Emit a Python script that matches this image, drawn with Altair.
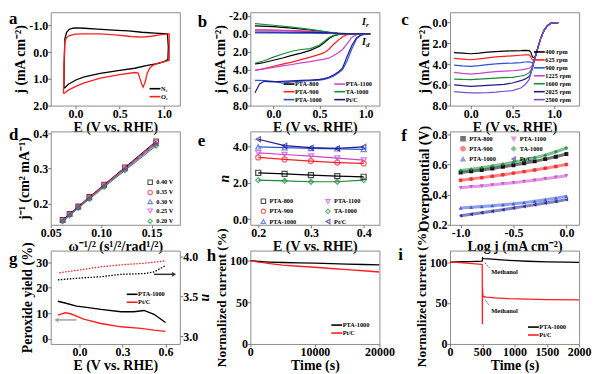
import altair as alt
import pandas as pd

FONT = "Liberation Serif"
W, H = 130, 94

BLACK = "#000000"; RED = "#ff1f1f"; BLUE = "#2f52d6"; MAGENTA = "#cc44cc"
GREEN = "#1a8a3a"; NAVY = "#1c1c8c"; PURPLE = "#7a4fd0"

# ---------------- (a) CV ----------------
a_n2_E = [-0.13, -0.128, -0.12, -0.10, -0.07, -0.03, 0.01, 0.1, 0.25, 0.475, 0.6, 0.75, 0.9, 1.04, 1.05, 1.045, 1.0, 0.94, 0.8, 0.67, 0.5, 0.28, 0.1, 0.01, -0.08, -0.12, -0.13]
a_n2_j = [1.35, 0.5, -0.5, -0.75, -0.86, -0.9, -0.91, -0.9, -0.87, -0.82, -0.8, -0.75, -0.72, -0.69, -0.2, 0.28, 0.35, 0.42, 0.5, 0.6, 0.68, 0.79, 0.92, 1.03, 1.2, 1.33, 1.35]
a_o2_E = [-0.135, -0.13, -0.12, -0.10, -0.07, 0.0, 0.1, 0.28, 0.45, 0.6, 0.67, 0.75, 0.86, 0.95, 1.05, 1.06, 1.06, 1.0, 0.94, 0.87, 0.84, 0.81, 0.79, 0.765, 0.75, 0.73, 0.71, 0.67, 0.5, 0.28, 0.1, 0.01, -0.08, -0.12, -0.135]
a_o2_j = [1.55, 0.5, -0.4, -0.55, -0.62, -0.68, -0.69, -0.69, -0.65, -0.6, -0.58, -0.57, -0.6, -0.65, -0.69, -0.69, 0.3, 0.36, 0.4, 0.5, 0.6, 0.8, 1.1, 1.31, 1.2, 1.0, 0.78, 0.76, 0.84, 0.97, 1.15, 1.27, 1.42, 1.52, 1.55]

# ---------------- (b) LSV disk / ring ----------------
b_names = ["PTA-800", "PTA-900", "PTA-1000", "PTA-1100", "TA-1000", "Pt/C"]
b_colors = [BLACK, RED, BLUE, MAGENTA, GREEN, NAVY]
b_E = [-0.2, -0.15, -0.1, 0.0, 0.1, 0.2, 0.3, 0.4, 0.5, 0.55, 0.6, 0.65, 0.7, 0.75, 0.8, 0.85, 0.9, 0.95, 1.0, 1.05]
b_disk = {
    "PTA-800": [3.36, 3.3, 3.2, 2.95, 2.7, 2.4, 2.15, 1.85, 1.4, 1.0, 0.55, 0.25, 0.1, 0.04, 0.02, 0.01, 0, 0, 0, 0],
    "PTA-900": [4.08, 3.98, 3.88, 3.62, 3.38, 3.15, 2.88, 2.6, 2.3, 2.1, 1.75, 1.2, 0.75, 0.33, 0.1, 0.03, 0.01, 0, 0, 0],
    "PTA-1000": [5.19, 5.2, 5.22, 5.3, 5.5, 5.35, 5.27, 5.22, 5.16, 5.08, 4.95, 4.72, 4.4, 4.0, 3.0, 1.7, 0.6, 0.15, 0.03, 0],
    "PTA-1100": [4.08, 4.0, 3.92, 3.75, 3.58, 3.42, 3.25, 3.1, 2.9, 2.82, 2.72, 2.45, 2.15, 1.75, 1.1, 0.4, 0.1, 0.03, 0.01, 0],
    "TA-1000": [3.29, 3.15, 3.0, 2.6, 2.25, 1.95, 1.75, 1.65, 1.25, 0.85, 0.45, 0.18, 0.06, 0.02, 0.01, 0, 0, 0, 0, 0],
    "Pt/C": [6.57, 5.6, 5.3, 5.35, 5.3, 5.25, 5.2, 5.15, 5.08, 5.0, 4.85, 4.6, 4.3, 3.8, 2.5, 1.3, 0.45, 0.12, 0.03, 0],
}
b_ring_E = [-0.2, 0.0, 0.2, 0.4, 0.6, 0.7, 0.8, 0.9, 1.05]
b_ring = {
    "PTA-800": [-0.87, -0.8, -0.62, -0.42, -0.16, -0.06, -0.01, 0, 0],
    "PTA-900": [-0.45, -0.42, -0.36, -0.27, -0.13, -0.05, -0.01, 0, 0],
    "PTA-1000": [-0.1, -0.09, -0.08, -0.07, -0.05, -0.03, -0.01, 0, 0],
    "PTA-1100": [-0.4, -0.38, -0.33, -0.25, -0.13, -0.06, -0.01, 0, 0],
    "TA-1000": [-1.14, -0.95, -0.75, -0.48, -0.18, -0.06, -0.01, 0, 0],
    "Pt/C": [-0.2, -0.19, -0.17, -0.15, -0.1, -0.06, -0.02, 0, 0],
}
b_ann_E = [0.96, 0.96]
b_ann_j = [-1.28, 0.93]
b_ann_sub = ["r", "d"]

# ---------------- (c) rotation rates ----------------
c_names = ["400 rpm", "625 rpm", "900 rpm", "1225 rpm", "1600 rpm", "2025 rpm", "2500 rpm"]
c_colors = [BLACK, RED, BLUE, MAGENTA, GREEN, NAVY, PURPLE]
c_E = [-0.2, -0.1, 0.0, 0.1, 0.2, 0.3, 0.4, 0.5, 0.6, 0.65, 0.7, 0.72, 0.74, 0.76, 0.78, 0.8, 0.84, 0.88, 0.92, 0.96, 1.0, 1.05]
c_j = {
    "400 rpm": [2.9, 2.95, 3.0, 2.95, 2.85, 2.8, 2.75, 2.72, 2.7, 2.68, 2.7, 2.85, 3.3, 3.4, 3.1, 2.55, 1.5, 0.75, 0.3, 0.08, 0.02, 0.0],
    "625 rpm": [3.45, 3.52, 3.58, 3.5, 3.4, 3.3, 3.25, 3.2, 3.15, 3.12, 3.12, 3.3, 3.6, 3.62, 3.15, 2.55, 1.5, 0.75, 0.3, 0.08, 0.02, 0.0],
    "900 rpm": [4.1, 4.18, 4.22, 4.15, 4.05, 3.98, 3.93, 3.9, 3.85, 3.8, 3.78, 3.82, 3.9, 3.7, 3.15, 2.55, 1.5, 0.75, 0.3, 0.08, 0.02, 0.0],
    "1225 rpm": [4.8, 4.9, 4.96, 4.9, 4.8, 4.72, 4.68, 4.64, 4.55, 4.48, 4.4, 4.3, 4.1, 3.7, 3.15, 2.55, 1.5, 0.75, 0.3, 0.08, 0.02, 0.0],
    "1600 rpm": [5.44, 5.48, 5.5, 5.45, 5.4, 5.35, 5.3, 5.28, 5.15, 5.05, 4.85, 4.6, 4.3, 3.7, 3.15, 2.55, 1.5, 0.75, 0.3, 0.08, 0.02, 0.0],
    "2025 rpm": [6.0, 6.08, 6.14, 6.1, 6.05, 6.0, 5.95, 5.82, 5.6, 5.45, 5.2, 4.9, 4.35, 3.7, 3.15, 2.55, 1.5, 0.75, 0.3, 0.08, 0.02, 0.0],
    "2500 rpm": [6.66, 6.72, 6.78, 6.78, 6.75, 6.7, 6.62, 6.56, 6.3, 6.0, 5.5, 4.95, 4.35, 3.7, 3.15, 2.55, 1.5, 0.75, 0.3, 0.08, 0.02, 0.0],
}

# ---------------- (d) K-L plots ----------------
d_names = ["0.40 V", "0.35 V", "0.30 V", "0.25 V", "0.20 V"]
d_colors = [BLACK, RED, BLUE, MAGENTA, GREEN]
d_shapes = ["square", "circle", "triangle-up", "triangle-down", "diamond"]
d_x = [0.0618, 0.0687, 0.0773, 0.0883, 0.1030, 0.1236, 0.1545]
d_y = {
    "0.40 V": [0.154, 0.171, 0.192, 0.219, 0.254, 0.303, 0.377],
    "0.35 V": [0.153, 0.170, 0.191, 0.218, 0.253, 0.301, 0.374],
    "0.30 V": [0.152, 0.169, 0.190, 0.216, 0.251, 0.299, 0.371],
    "0.25 V": [0.151, 0.168, 0.189, 0.215, 0.250, 0.297, 0.368],
    "0.20 V": [0.149, 0.166, 0.187, 0.213, 0.247, 0.294, 0.364],
}

# ---------------- (e) electron transfer number ----------------
e_names = ["PTA-800", "PTA-900", "PTA-1000", "PTA-1100", "TA-1000", "Pt/C"]
e_colors = [BLACK, RED, BLUE, MAGENTA, GREEN, NAVY]
e_shapes = ["square", "circle", "triangle-up", "triangle-down", "diamond", "triangle-left"]
e_E = [0.2, 0.25, 0.3, 0.35, 0.4]
e_n = {
    "PTA-800": [2.54, 2.48, 2.41, 2.36, 2.32],
    "PTA-900": [3.38, 3.27, 3.18, 3.10, 3.05],
    "PTA-1000": [3.96, 3.91, 3.87, 3.85, 3.82],
    "PTA-1100": [3.63, 3.54, 3.45, 3.34, 3.23],
    "TA-1000": [2.14, 2.10, 2.05, 2.05, 2.14],
    "Pt/C": [4.37, 4.02, 3.91, 3.87, 3.96],
}

# ---------------- (f) Tafel ----------------
f_x = [-1.0, -0.9, -0.8, -0.7, -0.6, -0.5, -0.4, -0.3, -0.2, -0.1, 0.0]
f_y = {
    "PTA-800": [0.547, 0.555, 0.564, 0.574, 0.585, 0.596, 0.608, 0.621, 0.636, 0.652, 0.670],
    "PTA-900": [0.496, 0.504, 0.513, 0.522, 0.532, 0.543, 0.553, 0.564, 0.575, 0.587, 0.600],
    "PTA-1000": [0.311, 0.316, 0.321, 0.327, 0.333, 0.339, 0.347, 0.356, 0.366, 0.377, 0.389],
    "PTA-1100": [0.446, 0.452, 0.458, 0.465, 0.472, 0.479, 0.487, 0.496, 0.505, 0.515, 0.526],
    "TA-1000": [0.560, 0.569, 0.579, 0.590, 0.602, 0.615, 0.629, 0.645, 0.662, 0.685, 0.710],
    "Pt/C": [0.260, 0.270, 0.280, 0.290, 0.300, 0.311, 0.322, 0.333, 0.344, 0.355, 0.367],
}
f_shapes = ["square", "circle", "triangle-up", "triangle-down", "diamond", "triangle-left"]

# ---------------- (g) RRDE peroxide & n ----------------
g_names = ["PTA-1000", "Pt/C"]
g_colors = [BLACK, RED]
g_yield_E = {
    "PTA-1000": [-0.15, -0.1, -0.02, 0.05, 0.15, 0.29, 0.38, 0.45, 0.52, 0.6],
    "Pt/C": [-0.15, -0.1, -0.06, 0.03, 0.15, 0.29, 0.43, 0.52, 0.6],
}
g_yield = {
    "PTA-1000": [14.7, 14.0, 12.8, 12.3, 11.5, 10.6, 10.6, 11.1, 9.6, 6.4],
    "Pt/C": [9.3, 10.2, 9.8, 7.7, 6.0, 4.7, 4.1, 3.4, 2.9],
}
g_n_E = {
    "PTA-1000": [-0.15, -0.02, 0.15, 0.29, 0.45, 0.52, 0.6],
    "Pt/C": [-0.14, -0.02, 0.15, 0.29, 0.45, 0.6],
}
g_n = {
    "PTA-1000": [3.71, 3.73, 3.75, 3.78, 3.79, 3.81, 3.89],
    "Pt/C": [3.80, 3.83, 3.875, 3.90, 3.92, 3.95],
}
g_arrow_left = [-0.02, -0.16, 7.4]   # from E, to E, yield
g_arrow_right = [0.52, 0.66, 3.78]   # from E, to E, n

# ---------------- (h) stability ----------------
h_t = [0, 1000, 2000, 3000, 5000, 7500, 10000, 12500, 15000, 17500, 20000]
h_v = {
    "PTA-1000": [100, 99.2, 98.6, 98.2, 97.7, 97.3, 96.9, 96.4, 95.8, 95.3, 94.9],
    "Pt/C": [100, 98.6, 97.5, 96.5, 94.5, 93.2, 92.0, 90.5, 89.2, 87.8, 86.3],
}

# ---------------- (i) methanol tolerance ----------------
i_t = {
    "PTA-1000": [0, 100, 200, 300, 400, 500, 505, 510, 520, 600, 700, 800, 1000, 1200, 1500, 1800, 2000],
    "Pt/C": [0, 100, 200, 300, 400, 490, 500, 502, 504, 508, 520, 560, 700, 900, 1200, 1500, 2000],
}
i_v = {
    "PTA-1000": [100, 100.2, 100.4, 100.6, 100.8, 101.0, 105.0, 104.6, 104.3, 103.8, 103.2, 102.6, 101.7, 101.0, 100.3, 99.8, 99.6],
    "Pt/C": [100, 99.6, 99.0, 98.5, 97.8, 97.2, 96.8, 24.0, 69.0, 60.0, 58.0, 57.2, 56.3, 55.4, 54.7, 54.2, 53.8],
}
i_note_t = [640, 640]
i_note_v = [88, 40]
i_lead = [[610, 93, 530, 100], [600, 48, 545, 54]]


# ================= helpers =================
def long(xs_map, ys_map, names):
    rows = []
    for s in names:
        xs = xs_map[s] if isinstance(xs_map, dict) else xs_map
        for k, (x, y) in enumerate(zip(xs, ys_map[s])):
            rows.append({"x": x, "y": y, "s": s, "o": k})
    return pd.DataFrame(rows)


def xenc(field, domain, values, fmt, title):
    return alt.X(field, scale=alt.Scale(domain=domain, nice=False, zero=False),
                 axis=alt.Axis(values=values, format=fmt, title=title))


def yenc(field, domain, values, fmt, title, reverse=False, orient="left", tsize=14, tstyle="normal"):
    sc = dict(domain=domain, nice=False, zero=False)
    if reverse:
        sc["reverse"] = True
    return alt.Y(field, scale=alt.Scale(**sc),
                 axis=alt.Axis(values=values, format=fmt, title=title, orient=orient,
                               titleFontSize=tsize, titleFontStyle=tstyle))


def line_leg(x, y, columns=1, colpad=6):
    return alt.Legend(orient="none", legendX=x, legendY=y, title=None, columns=columns,
                      columnPadding=colpad, labelFont=FONT, labelFontSize=6.3, labelFontWeight="bold",
                      symbolType="M-2,0H2", symbolStrokeWidth=1.6, symbolSize=30, rowPadding=0,
                      labelOffset=2, padding=0)


def pt_leg(x, y, columns=1, colpad=6):
    return alt.Legend(orient="none", legendX=x, legendY=y, title=None, columns=columns,
                      columnPadding=colpad, labelFont=FONT, labelFontSize=6.3, labelFontWeight="bold",
                      symbolSize=20, symbolStrokeWidth=1.1, rowPadding=0.3, labelOffset=3, padding=0)


def letter(ch, dx, base):
    return alt.Chart(pd.DataFrame({"t": [ch]})).mark_text(
        font=FONT, fontSize=17, fontWeight="bold", align="left", baseline="alphabetic"
    ).encode(text="t:N", x=alt.value(dx), y=alt.value(base))


E_TITLE = "E (V vs. RHE)"
J_TITLE = "j (mA cm⁻²)"

# ================= (a) =================
df_a = pd.concat([
    long(a_n2_E, {"N₂": a_n2_j}, ["N₂"]),
    long(a_o2_E, {"O₂": a_o2_j}, ["O₂"]),
])
pa = alt.layer(
    alt.Chart(df_a).mark_line(strokeWidth=1.3, clip=True).encode(
        x=xenc("x:Q", [-0.28, 1.18], [0, 0.5, 1.0], ".1f", E_TITLE),
        y=yenc("y:Q", [-1.5, 2.0], [-1, 0, 1, 2], ".1f", J_TITLE, reverse=True),
        color=alt.Color("s:N", scale=alt.Scale(domain=["N₂", "O₂"], range=[BLACK, RED]), legend=line_leg(101, 73)),
        order="o:Q",
    ),
    letter("a", -42, 12),
).properties(width=W, height=H)

# ================= (b) =================
df_b = pd.concat([
    long(b_E, b_disk, b_names).assign(k="disk"),
    long(b_ring_E, b_ring, b_names).assign(k="ring"),
])
bx = xenc("x:Q", [-0.25, 1.15], [0, 0.5, 1.0], ".1f", E_TITLE)
by = yenc("y:Q", [-2.4, 8.0], [-2, 0, 2, 4, 6, 8], ".1f", J_TITLE, reverse=True)
df_bann = pd.DataFrame({"x": b_ann_E, "y": b_ann_j, "sub": b_ann_sub, "I": ["I", "I"]})
pb = alt.layer(
    alt.Chart(df_b).mark_line(strokeWidth=1.2, clip=True).encode(
        x=bx, y=by,
        color=alt.Color("s:N", scale=alt.Scale(domain=b_names, range=b_colors), legend=line_leg(35, 68, 2, 9)),
        detail="k:N", order="o:Q",
    ),
    alt.Chart(df_bann).mark_text(font=FONT, fontSize=10, fontStyle="italic", fontWeight="bold", align="left").encode(
        x=bx, y=by, text="I:N"),
    alt.Chart(df_bann).mark_text(font=FONT, fontSize=7, fontStyle="italic", fontWeight="bold", align="left", dx=4, dy=3).encode(
        x=bx, y=by, text="sub:N"),
    letter("b", -53, 15),
).properties(width=W, height=H)

# ================= (c) =================
df_c = long(c_E, c_j, c_names)
pc = alt.layer(
    alt.Chart(df_c).mark_line(strokeWidth=1.2, clip=True).encode(
        x=xenc("x:Q", [-0.25, 1.3], [0, 0.5, 1.0], ".1f", E_TITLE),
        y=yenc("y:Q", [-1.0, 8.0], [0, 2, 4, 6, 8], ".1f", J_TITLE, reverse=True),
        color=alt.Color("s:N", scale=alt.Scale(domain=c_names, range=c_colors), legend=line_leg(86, 36)),
        order="o:Q",
    ),
    letter("c", -49, 13),
).properties(width=W, height=H)

# ================= (d) =================
df_d = long(d_x, d_y, d_names)
dx_ = xenc("x:Q", [0.05, 0.178], [0.05, 0.10, 0.15], ".2f", "ω⁻¹/² (s¹/²/rad¹/²)")
dy_ = yenc("y:Q", [0.14, 0.405], [0.2, 0.3, 0.4], ".1f", "j⁻¹ (cm² mA⁻¹)")
dcol = alt.Color("s:N", scale=alt.Scale(domain=d_names, range=d_colors), legend=pt_leg(97, 48))
pd_ = alt.layer(
    alt.Chart(df_d).mark_line(strokeWidth=1.0, clip=True).encode(x=dx_, y=dy_, color=dcol, order="o:Q"),
    alt.Chart(df_d).mark_point(filled=False, size=22, strokeWidth=1.1, clip=True).encode(
        x=dx_, y=dy_, color=dcol,
        shape=alt.Shape("s:N", scale=alt.Scale(domain=d_names, range=d_shapes), legend=pt_leg(97, 48))),
    letter("d", -42, 9),
).properties(width=W, height=H)

# ================= (e) =================
df_e = long(e_E, e_n, e_names)
ex_ = xenc("x:Q", [0.185, 0.43], [0.2, 0.3, 0.4], ".1f", E_TITLE)
ey_ = yenc("y:Q", [-0.3, 4.8], [0, 2, 4], ".1f", "n", tstyle="italic")
ecol = alt.Color("s:N", scale=alt.Scale(domain=e_names, range=e_colors), legend=pt_leg(10, 67, 2, 26))
pe = alt.layer(
    alt.Chart(df_e).mark_line(strokeWidth=1.2, clip=True).encode(x=ex_, y=ey_, color=ecol, order="o:Q"),
    alt.Chart(df_e).mark_point(filled=False, size=26, strokeWidth=1.2, clip=True).encode(
        x=ex_, y=ey_, color=ecol,
        shape=alt.Shape("s:N", scale=alt.Scale(domain=e_names, range=e_shapes), legend=pt_leg(10, 67, 2, 26))),
    letter("e", -53, 15),
).properties(width=W, height=H)

# ================= (f) =================
df_f = long(f_x, f_y, e_names)
fx_ = xenc("x:Q", [-1.1, 0.12], [-1.0, -0.5, 0.0], ".1f", "Log j (mA cm⁻²)")
fy_ = yenc("y:Q", [0.2, 0.82], [0.2, 0.4, 0.6, 0.8], ".1f", "Overpotential (V)")
fcol = alt.Color("s:N", scale=alt.Scale(domain=e_names, range=e_colors), legend=pt_leg(10, 4, 2, 12))
pf = alt.layer(
    alt.Chart(df_f).mark_line(strokeWidth=3, opacity=0.55, clip=True).encode(x=fx_, y=fy_, color=fcol, order="o:Q"),
    alt.Chart(df_f).mark_point(filled=True, size=16, opacity=0.85, clip=True).encode(
        x=fx_, y=fy_, color=fcol,
        shape=alt.Shape("s:N", scale=alt.Scale(domain=e_names, range=f_shapes), legend=pt_leg(10, 4, 2, 12))),
    letter("f", -49, 10),
).properties(width=W, height=H)

# ================= (g) =================
df_gy = long(g_yield_E, g_yield, g_names)
df_gn = long(g_n_E, g_n, g_names)
gx = lambda f: xenc(f, [-0.2, 0.7], [0.0, 0.3, 0.6], ".1f", E_TITLE)
gyl = lambda f: yenc(f, [-2, 34.5], [0, 10, 20, 30], "d", "Peroxide yield (%)")
gyr = lambda f: yenc(f, [2.9, 4.08], [3.0, 3.5, 4.0], ".1f", "n", orient="right", tstyle="italic")
gcol = alt.Color("s:N", scale=alt.Scale(domain=g_names, range=g_colors), legend=line_leg(78, 40))
df_gal = pd.DataFrame({"x0": [g_arrow_left[0]], "x1": [g_arrow_left[1]], "y": [g_arrow_left[2]]})
df_gar = pd.DataFrame({"x0": [g_arrow_right[0]], "x1": [g_arrow_right[1]], "y": [g_arrow_right[2]]})
g_left = alt.layer(
    alt.Chart(df_gy).mark_line(strokeWidth=1.4, clip=True).encode(x=gx("x:Q"), y=gyl("y:Q"), color=gcol, order="o:Q"),
    alt.Chart(df_gal).mark_rule(color="#a0a0a0", strokeWidth=1.5).encode(x=gx("x0:Q"), x2="x1:Q", y=gyl("y:Q")),
    alt.Chart(df_gal).mark_point(shape="triangle-left", filled=True, size=22, color="#a0a0a0", opacity=1).encode(x=gx("x1:Q"), y=gyl("y:Q")),
    letter("g", -42, 13),
)
g_right = alt.layer(
    alt.Chart(df_gn).mark_line(strokeWidth=1.3, strokeDash=[1.5, 1.5], clip=True).encode(x=gx("x:Q"), y=gyr("y:Q"), color=gcol, order="o:Q"),
    alt.Chart(df_gar).mark_rule(color="#333333", strokeWidth=1.5).encode(x=gx("x0:Q"), x2="x1:Q", y=gyr("y:Q")),
    alt.Chart(df_gar).mark_point(shape="triangle-right", filled=True, size=22, color="#333333", opacity=1).encode(x=gx("x1:Q"), y=gyr("y:Q")),
)
pg = alt.layer(g_left, g_right).resolve_scale(y="independent").properties(width=W, height=H)

# ================= (h) =================
df_h = long(h_t, h_v, g_names)
ph = alt.layer(
    alt.Chart(df_h).mark_line(strokeWidth=1.3, clip=True).encode(
        x=xenc("x:Q", [0, 20000], [0, 10000, 20000], "d", "Time (s)"),
        y=yenc("y:Q", [0, 112], [0, 50, 100], "d", "Normalized current (%)", tsize=13.5),
        color=alt.Color("s:N", scale=alt.Scale(domain=g_names, range=g_colors), legend=line_leg(83, 71)),
        order="o:Q",
    ),
    letter("h", -44, 10),
).properties(width=W, height=H)

# ================= (i) =================
df_i = long(i_t, i_v, g_names)
ix = lambda f: xenc(f, [0, 2000], [0, 500, 1000, 1500, 2000], "d", "Time (s)")
iy = lambda f: yenc(f, [0, 114], [0, 50, 100], "d", "Normalized current (%)", tsize=13.5)
df_inote = pd.DataFrame({"x": i_note_t, "y": i_note_v, "t": ["Methanol", "Methanol"]})
df_ilead = pd.DataFrame(i_lead, columns=["x0", "y0", "x1", "y1"])
pi = alt.layer(
    alt.Chart(df_i).mark_line(strokeWidth=1.3, clip=True).encode(
        x=ix("x:Q"), y=iy("y:Q"),
        color=alt.Color("s:N", scale=alt.Scale(domain=g_names, range=g_colors), legend=line_leg(80, 73)),
        order="o:Q",
    ),
    alt.Chart(df_inote).mark_text(font=FONT, fontSize=6.5, fontWeight="bold", align="left").encode(
        x=ix("x:Q"), y=iy("y:Q"), text="t:N"),
    alt.Chart(df_ilead).mark_rule(color="#333333", strokeWidth=0.8, strokeDash=[1.5, 1]).encode(
        x=ix("x0:Q"), y=iy("y0:Q"), x2="x1:Q", y2="y1:Q"),
    letter("i", -52, 9),
).properties(width=W, height=H)

chart = alt.concat(
    pa, pb, pc, pd_, pe, pf, pg, ph, pi, columns=3,
    spacing=alt.RowColnumber(row=26, column=71),
    bounds="flush",
).resolve_scale(
    color="independent", shape="independent", x="independent", y="independent"
).resolve_legend(color="independent", shape="independent").properties(
    padding={"left": 0, "top": 0, "right": 0, "bottom": 0}
).configure(
    locale={"number": {"decimal": ".", "thousands": ",", "grouping": [3], "currency": ["", ""], "minus": "-"}}
).configure_axis(
    labelFont=FONT, labelFontSize=12, labelFontWeight="bold", labelColor="black",
    titleFont=FONT, titleFontSize=14, titleFontWeight="bold", titleColor="black",
    domain=False, grid=False, tickColor="#777777", tickSize=3, labelPadding=0, titlePadding=1,
    labelFlush=False, labelOverlap=False,
).configure_view(stroke="#8c8c8c", strokeWidth=1)

chart.save("out.html", embed_options={"renderer": "svg", "actions": False})
